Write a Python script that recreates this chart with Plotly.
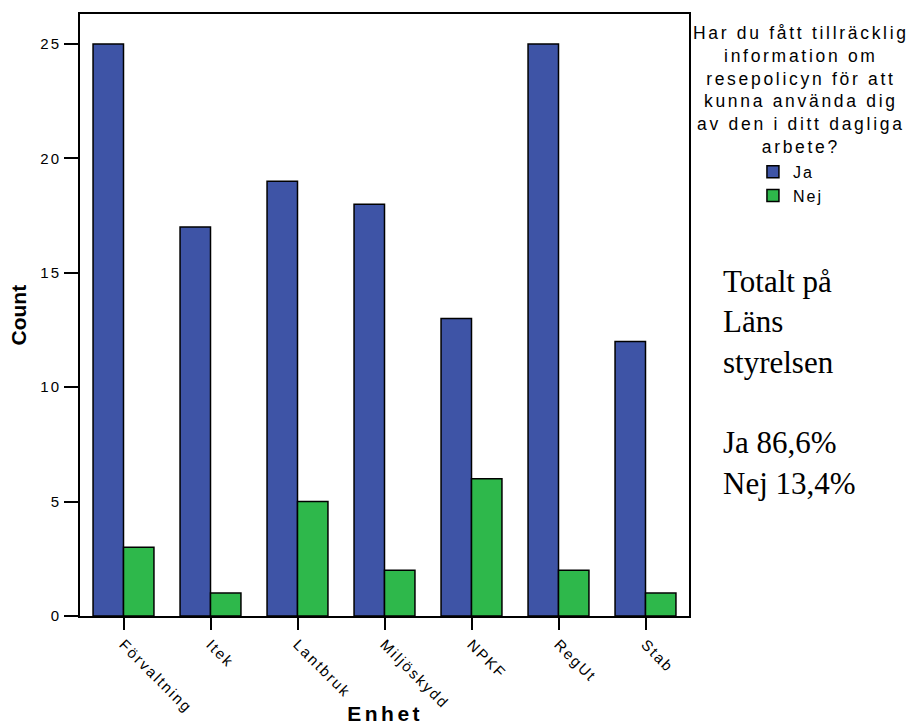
import plotly.graph_objects as go

categories = ["Förvaltning", "Itek", "Lantbruk", "Miljöskydd", "NPKF", "RegUt", "Stab"]
ja_values = [25, 17, 19, 18, 13, 25, 12]
nej_values = [3, 1, 5, 2, 6, 2, 1]
y_ticks = [0, 5, 10, 15, 20, 25]
legend_title = "Har du fått tillräcklig<br>information om<br>resepolicyn för att<br>kunna använda dig<br>av den i ditt dagliga<br>arbete?"
side_note = "Totalt på<br>Läns<br>styrelsen<br><br>Ja 86,6%<br>Nej 13,4%"
x_title = "Enhet"
y_title = "Count"

BLUE = "#3E54A6"
GREEN = "#2EB84B"
SANS = "Arial, Liberation Sans, sans-serif"

fig = go.Figure()
fig.add_trace(go.Bar(x=categories, y=ja_values, name="Ja",
                     marker=dict(color=BLUE, line=dict(color="black", width=1.5))))
fig.add_trace(go.Bar(x=categories, y=nej_values, name="Nej",
                     marker=dict(color=GREEN, line=dict(color="black", width=1.5))))

fig.update_layout(
    width=913, height=726,
    margin=dict(l=80, r=224, t=14, b=110),
    paper_bgcolor="white", plot_bgcolor="white",
    barmode="group", bargap=0.3, bargroupgap=0,
    font=dict(family=SANS, color="black", size=15),
    showlegend=True,
    legend=dict(x=1.105, y=0.766, xanchor="left", yanchor="top",
                font=dict(size=16), bgcolor="rgba(0,0,0,0)", itemclick=False),
    xaxis=dict(range=[-0.5, 6.5], showline=True, linecolor="black", linewidth=2,
               mirror=True, ticks="outside", ticklen=12, tickwidth=2, tickcolor="black",
               tickangle=45, tickfont=dict(size=15), automargin=False),
    yaxis=dict(range=[0, 26.31], showline=True, linecolor="black", linewidth=2,
               mirror=True, ticks="outside", ticklen=14, tickwidth=2, tickcolor="black",
               tickvals=y_ticks, showgrid=False, zeroline=False, tickfont=dict(size=15),
               automargin=False),
)

# 0: legend title
fig.add_annotation(text=legend_title, xref="paper", yref="paper",
                   x=1.1847, y=0.989, xanchor="center", yanchor="top", showarrow=False,
                   font=dict(size=17.5), align="center")
# 1: side note
fig.add_annotation(text=side_note, xref="paper", yref="paper",
                   x=1.0525, y=0.5885, xanchor="left", yanchor="top", showarrow=False,
                   font=dict(family="Liberation Serif, Times New Roman, serif", size=31),
                   align="left")
# 2: x axis title
fig.add_annotation(text="<b>" + x_title + "</b>", xref="paper", yref="paper",
                   x=0.5, y=-0.162, xanchor="center", yanchor="middle", showarrow=False,
                   font=dict(size=21))
# 3: y axis title
fig.add_annotation(text="<b>" + y_title + "</b>", xref="paper", yref="paper",
                   x=-0.101, y=0.5, xanchor="center", yanchor="middle", showarrow=False,
                   textangle=-90, font=dict(size=21))

post = """
document.body.style.margin = '0';
var gd = document.getElementById('{plot_id}');
function sp(sel, v) { gd.querySelectorAll(sel).forEach(function(t){ t.style.letterSpacing = v; }); }
sp('.xtick text', '2px');
sp('.ytick text', '2px');
sp('.legendtext', '2px');
sp('.annotation[data-index="0"] text', '2.7px');
sp('.annotation[data-index="2"] text', '3.5px');
"""

fig.write_html("out.html", post_script=post, config={"displayModeBar": False})
